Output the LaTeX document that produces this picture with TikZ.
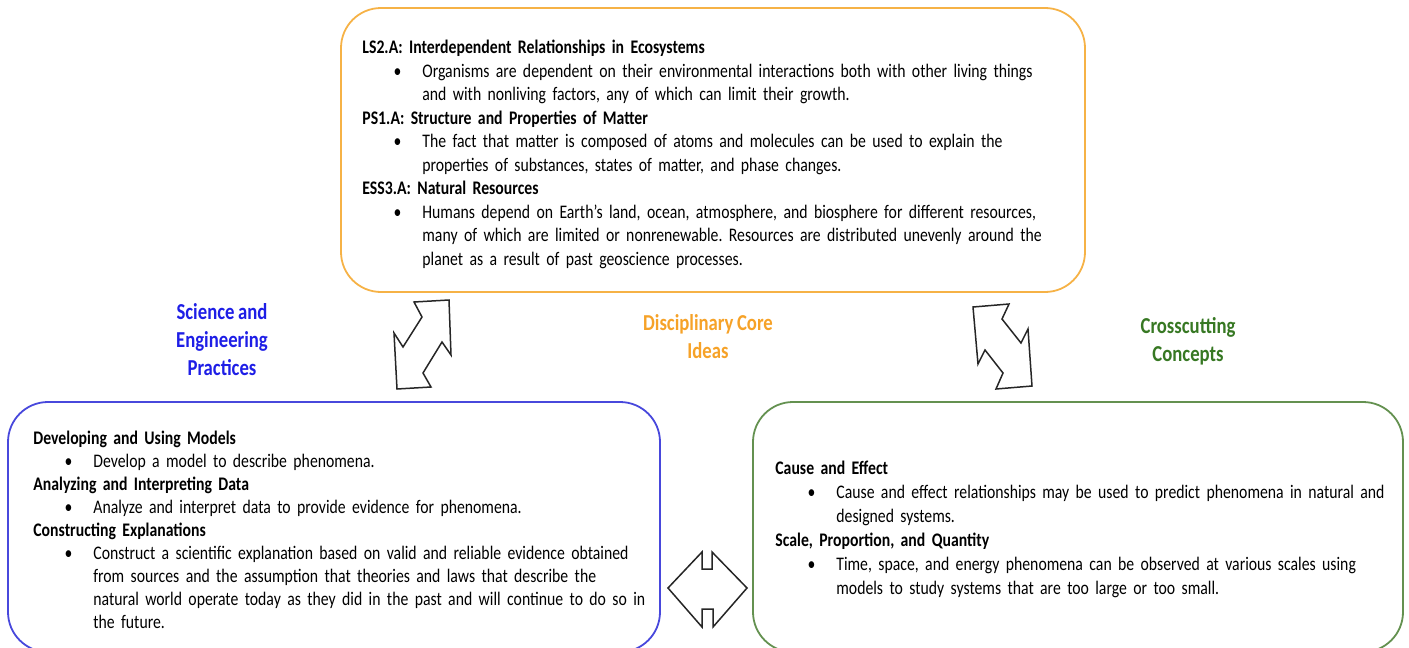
\documentclass[tikz,border=0pt]{standalone}
\usepackage{fontspec}
\setmainfont{Carlito}[FakeStretch=0.82, WordSpace=0.85]
\usetikzlibrary{positioning}

\definecolor{dciorange}{RGB}{246,178,70}
\definecolor{sepblue}{RGB}{72,72,220}
\definecolor{ccgreen}{RGB}{100,145,80}
\definecolor{labelblue}{RGB}{30,30,230}
\definecolor{labelorange}{RGB}{246,162,40}
\definecolor{labelgreen}{RGB}{55,120,35}

% bullet line with hanging indent
\newcommand{\bitem}[2]{{\leftskip=#1\noindent\llap{\textbullet\hspace{10.5pt}}#2\par}}
\newcommand{\bhead}[1]{\noindent\textbf{#1}\par}

\begin{document}
\frenchspacing
\begin{tikzpicture}[
    x=0.5pt, y=-0.5pt,
    frame/.style={rectangle, rounded corners=20pt, draw=#1, line width=0.9pt, inner sep=0pt},
    boxtext/.style={anchor=north west, inner sep=0pt, align=left,
        font=\fontsize{9.6}{11.75}\selectfont},
    pillar/.style={align=center, inner sep=0pt, text=#1,
        font=\fontsize{11.4}{14}\selectfont\bfseries},
    twoway/.style={draw=black!85, line width=0.75pt, fill=white, line join=miter},
]
\clip (0,0) rectangle (1409,648);
\useasboundingbox (0,0) rectangle (1409,648);

% ---- frames ----
\node[frame=dciorange, minimum width=372pt, minimum height=142pt] (dci) at (713,150) {};
\node[frame=sepblue, minimum width=326pt, minimum height=125pt] (sep) at (334,527) {};
\node[frame=ccgreen, minimum width=325pt, minimum height=125pt] (cc) at (1078,527) {};

% ---- box contents ----
\node[boxtext, text width=360pt] (dcitext) at (362,40) {%
  \bhead{LS2.A: Interdependent Relationships in Ecosystems}
  \bitem{30pt}{Organisms are dependent on their environmental interactions both with other living things\\
    and with nonliving factors, any of which can limit their growth.}
  \bhead{PS1.A: Structure and Properties of Matter}
  \bitem{30pt}{The fact that matter is composed of atoms and molecules can be used to explain the\\
    properties of substances, states of matter, and phase changes.}
  \bhead{ESS3.A: Natural Resources}
  \bitem{30pt}{Humans depend on Earth’s land, ocean, atmosphere, and biosphere for different resources,\\
    many of which are limited or nonrenewable. Resources are distributed unevenly around the\\
    planet as a result of past geoscience processes.}
};

\node[boxtext, text width=315pt, font=\fontsize{9.6}{11.45}\selectfont] (septext) at (33,431) {%
  \bhead{Developing and Using Models}
  \bitem{30pt}{Develop a model to describe phenomena.}
  \bhead{Analyzing and Interpreting Data}
  \bitem{30pt}{Analyze and interpret data to provide evidence for phenomena.}
  \bhead{Constructing Explanations}
  \bitem{30pt}{Construct a scientific explanation based on valid and reliable evidence obtained\\
    from sources and the assumption that theories and laws that describe the\\
    natural world operate today as they did in the past and will continue to do so in\\
    the future.}
};

\node[boxtext, text width=315pt, font=\fontsize{9.6}{12}\selectfont] (cctext) at (775,461) {%
  \bhead{Cause and Effect}
  \bitem{30.5pt}{Cause and effect relationships may be used to predict phenomena in natural and\\
    designed systems.}
  \bhead{Scale, Proportion, and Quantity}
  \bitem{30.5pt}{Time, space, and energy phenomena can be observed at various scales using\\
    models to study systems that are too large or too small.}
};

% ---- pillar labels ----
\node[pillar=labelblue] (seplabel) at (222,340) {Science and\\Engineering\\Practices};
\node[pillar=labelorange] (dcilabel) at (708,337) {Disciplinary Core\\Ideas};
\node[pillar=labelgreen] (cclabel) at (1188,341) {Crosscutting\\Concepts};

% ---- two-way arrows between the frames ----
\draw[twoway] (414,302) -- (449,300) -- (451,355) -- (442,342) -- (423,373) -- (431,387)
    -- (397,389) -- (394,333) -- (403,347) -- (422,317) -- cycle;
\draw[twoway] (973,307) -- (1009,304) -- (1002,319) -- (1021,343) -- (1028,329) -- (1032,386)
    -- (996,389) -- (1003,373) -- (985,350) -- (978,364) -- cycle;
\draw[twoway] (668,588) -- (702,552) -- (702,569) -- (712,569) -- (712,552) -- (747,588)
    -- (713,627) -- (713,609) -- (702,609) -- (702,627) -- cycle;

\end{tikzpicture}
\end{document}
